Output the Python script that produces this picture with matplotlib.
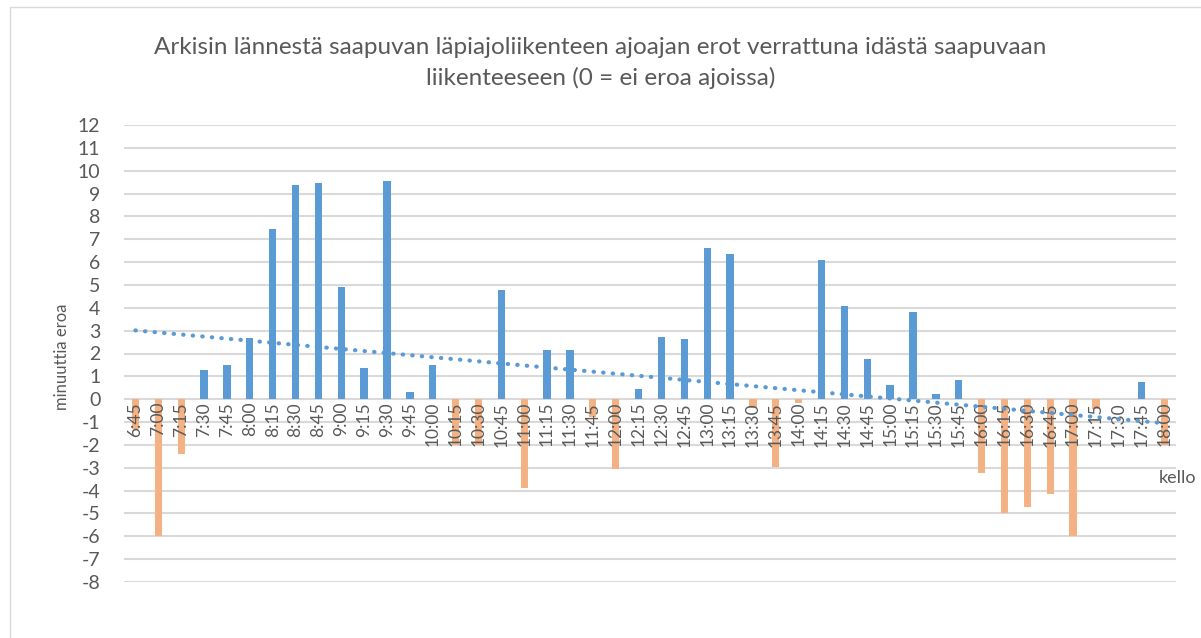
import numpy as np
import matplotlib.pyplot as plt
from matplotlib.patches import Rectangle

plt.rcParams['font.family'] = ['Lato', 'DejaVu Sans']
plt.rcParams['axes.unicode_minus'] = False

# time slots 6:45 ... 18:00
times = ['6:45', '7:00', '7:15', '7:30', '7:45', '8:00', '8:15', '8:30', '8:45',
         '9:00', '9:15', '9:30', '9:45', '10:00', '10:15', '10:30', '10:45',
         '11:00', '11:15', '11:30', '11:45', '12:00', '12:15', '12:30', '12:45',
         '13:00', '13:15', '13:30', '13:45', '14:00', '14:15', '14:30', '14:45',
         '15:00', '15:15', '15:30', '15:45', '16:00', '16:15', '16:30', '16:45',
         '17:00', '17:15', '17:30', '17:45', '18:00']

# difference in minutes
diff = [-1.3, -5.97, -2.41, 1.28, 1.5, 2.67, 7.46, 9.36, 9.46,
        4.89, 1.36, 9.56, 0.3, 1.5, -2.0, -2.0, 4.79,
        -3.87, 2.16, 2.16, -0.8, -3.07, 0.44, 2.73, 2.64,
        6.63, 6.36, -0.37, -2.95, -0.15, 6.1, 4.06, 1.78,
        0.61, 3.81, 0.22, 0.85, -3.24, -4.99, -4.73, -4.16,
        -5.97, -0.41, 0.03, 0.74, -2.0]

blue = '#5B9BD5'
orange = '#F4B183'
text_col = '#595959'

fig = plt.figure(figsize=(12.01, 6.38), dpi=100)
ax = fig.add_axes([124 / 1201, 1 - 582 / 638, 1052 / 1201, 457 / 638])

# x axis crosses at zero (set before ticks, it resets them)
ax.spines['bottom'].set_position(('data', 0))
for s in ['top', 'right', 'left', 'bottom']:
    ax.spines[s].set_visible(False)

x = np.arange(len(times))
colors = [blue if v >= 0 else orange for v in diff]
ax.bar(x, diff, width=0.32, color=colors, zorder=3)

# linear trendline
k, b = np.polyfit(x, diff, 1)
ax.plot(x, k * x + b, linestyle=(0, (0.1, 2.2)), dash_capstyle='round',
        color=blue, linewidth=3, zorder=6)

ax.set_xlim(-0.5, len(times) - 0.5)
ax.set_ylim(-8, 12)
ax.set_yticks(range(-8, 13))
ax.grid(axis='y', color='#D9D9D9', linewidth=1.5)
ax.set_axisbelow(True)
ax.xaxis.set_zorder(5)  # time labels on top of the bars

ax.set_xticks(x)
ax.set_xticklabels(times, rotation=90, fontsize=12.5, color=text_col, va='top')
ax.tick_params(axis='x', length=0, pad=2)
ax.tick_params(axis='y', length=0, pad=17, labelsize=14, labelcolor=text_col)

fig.text(0.5, 1 - 48 / 638, 'Arkisin lännestä saapuvan läpiajoliikenteen ajoajan erot verrattuna idästä saapuvaan',
         ha='center', va='center', fontsize=17.5, color=text_col)
fig.text(0.5, 1 - 78 / 638, 'liikenteeseen (0 = ei eroa ajoissa)',
         ha='center', va='center', fontsize=17.5, color=text_col)
fig.text(62 / 1201, 1 - 357 / 638, 'minuuttia eroa', rotation=90,
         ha='center', va='center', fontsize=12, color=text_col)
fig.text(1177 / 1201, 1 - 478 / 638, 'kello',
         ha='center', va='center', fontsize=13, color=text_col)

fig.patches.append(Rectangle((10 / 1201, -0.1), 1.2, 1 - 7 / 638 + 0.1,
                             transform=fig.transFigure, fill=False,
                             edgecolor='#D9D9D9', linewidth=1))

fig.savefig('out.png', dpi=100)
